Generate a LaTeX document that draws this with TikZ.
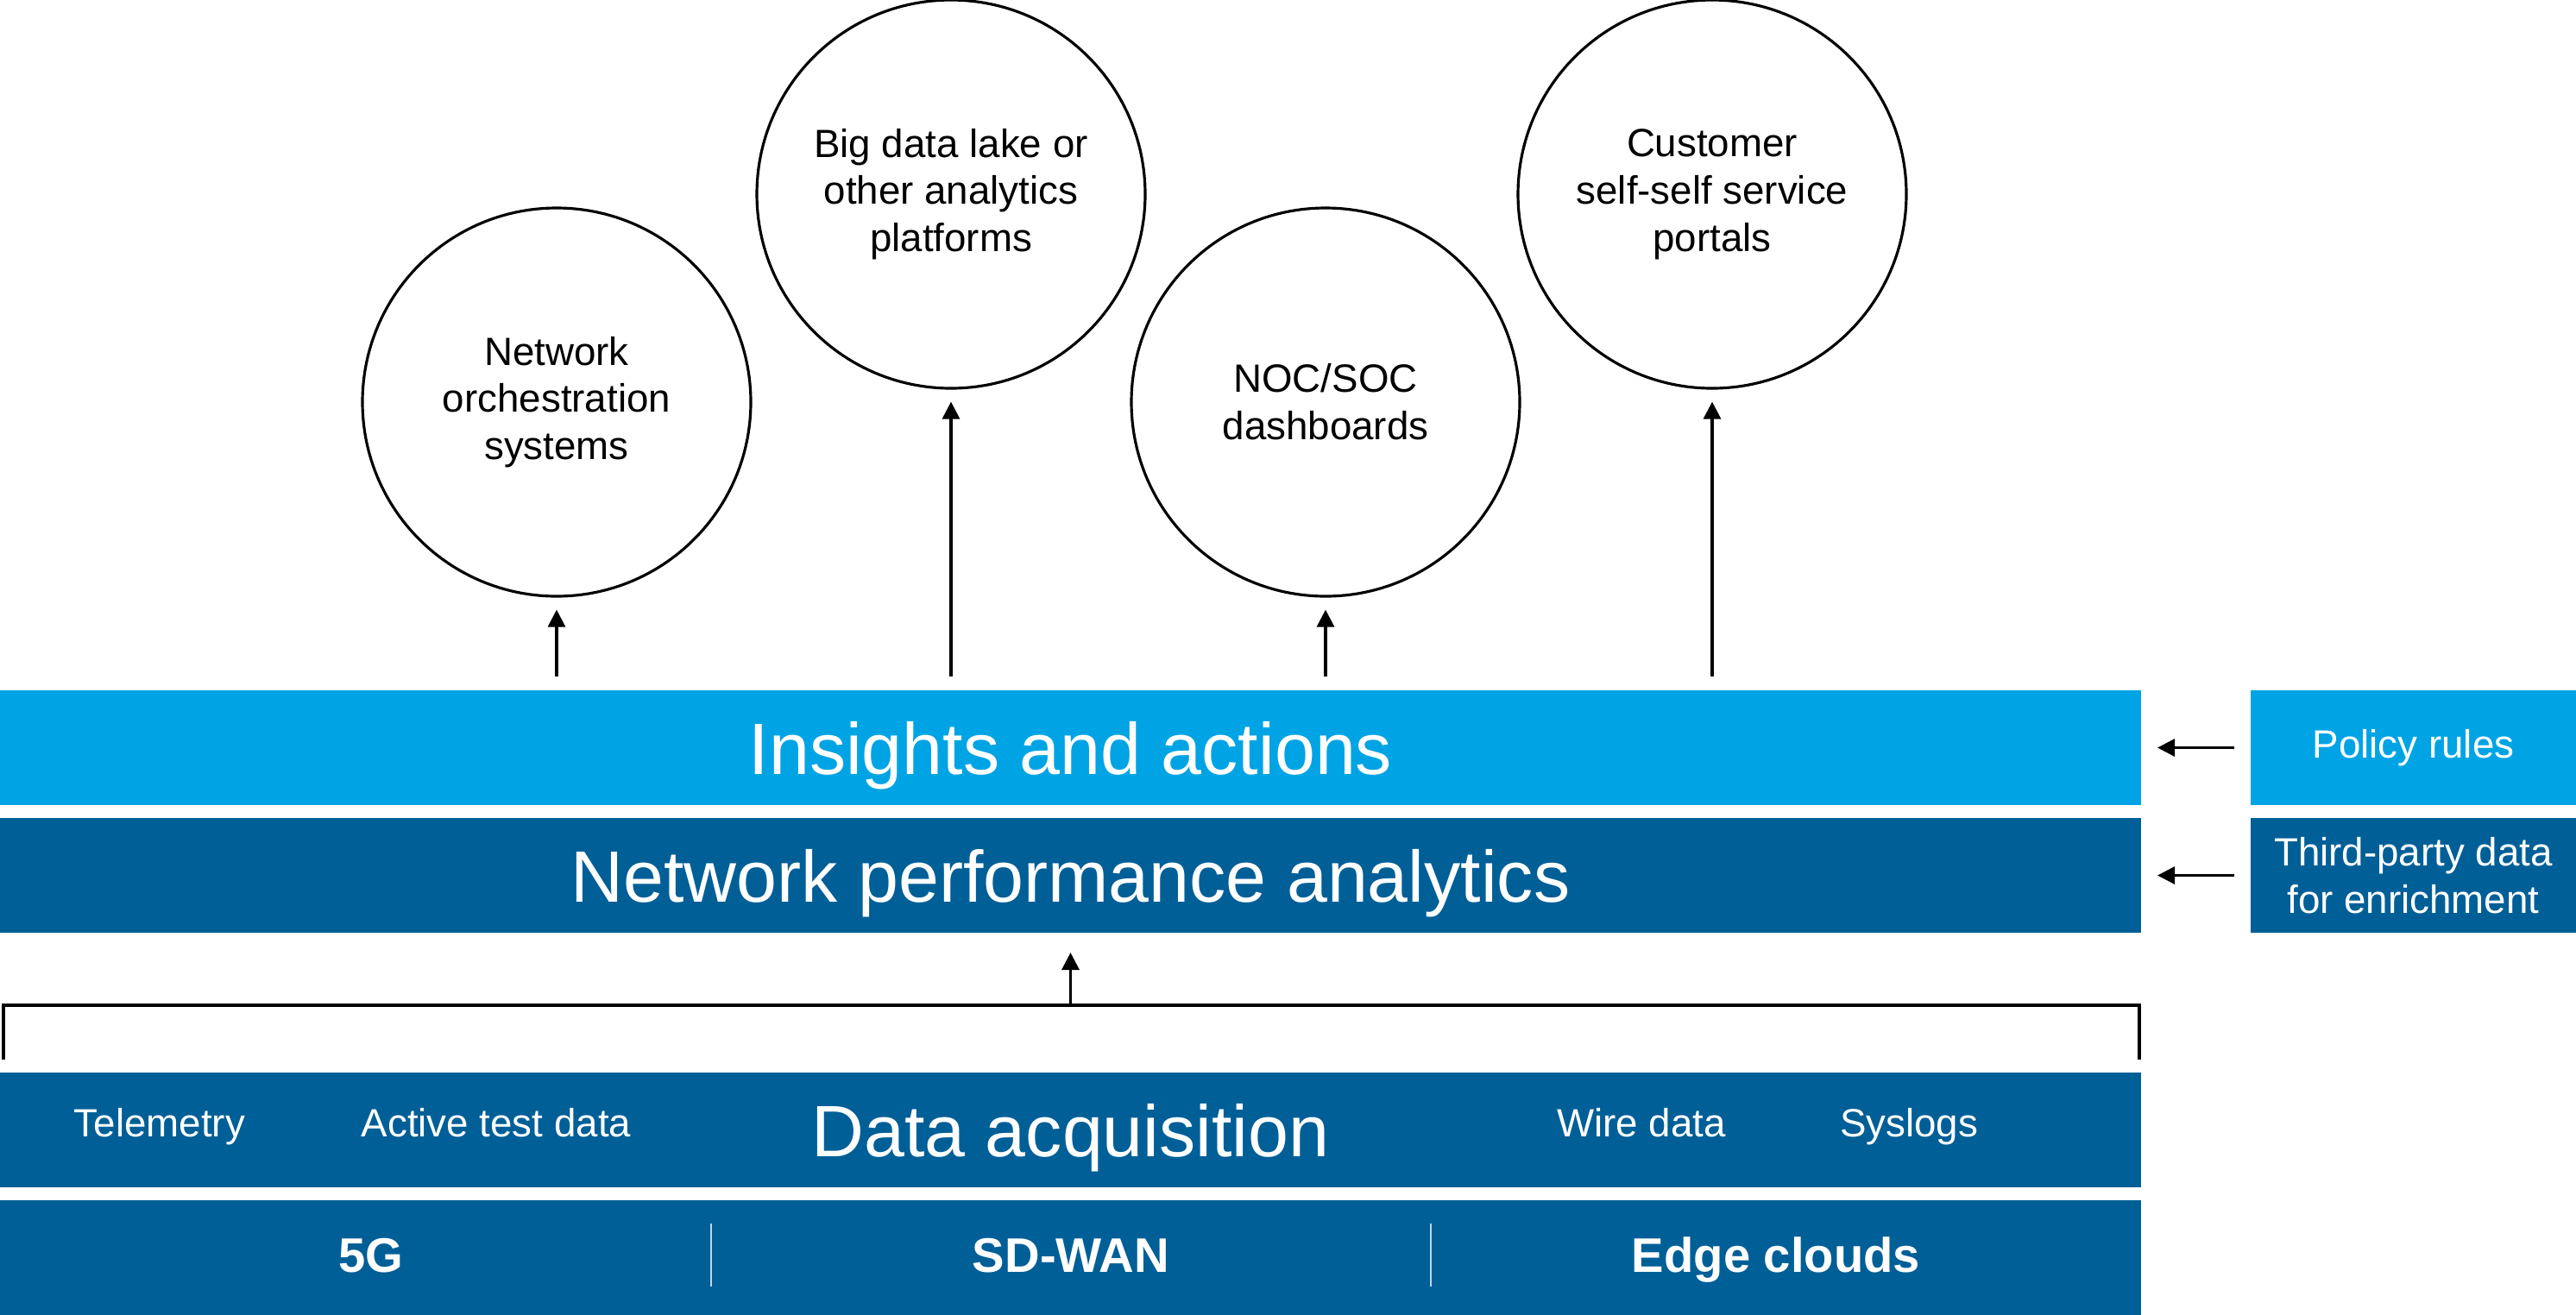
\documentclass[tikz,border=0pt]{standalone}
\usepackage{fontspec}
\setmainfont{Liberation Sans}
\usepackage{tikz}
\usetikzlibrary{arrows.meta,positioning}

\definecolor{lightblue}{HTML}{00A4E4}
\definecolor{darkblue}{HTML}{005F97}

\begin{document}
\begin{tikzpicture}[
    > = {Triangle[length=2mm,width=2mm]}, % arrow head style
    line width = 0.9pt, % line style
    node distance = 0.15cm % gap between stacked bars
    ]

    \tikzset{
    bar/.style = {
        fill = lightblue,
        text = white,
        anchor = north west,
        minimum width = 24.81cm,
        minimum height = 1.33cm,
        inner sep = 0pt,
        outer sep = 0pt,
        text depth = 0pt,
        font = \fontsize{24}{28}\selectfont
        },
    side/.style = {
        fill = lightblue,
        text = white,
        minimum width = 3.77cm,
        minimum height = 1.33cm,
        inner sep = 0pt,
        outer sep = 0pt,
        align = center,
        font = \fontsize{13}{15.6}\selectfont
        },
    disc/.style = {
        circle,
        draw = black,
        minimum size = 4.5cm,
        align = center,
        font = \fontsize{13}{15.6}\selectfont
        },
    lbl/.style = {
        anchor = base,
        text = white,
        inner sep = 0pt,
        font = \fontsize{13}{15.6}\selectfont
        },
    bold/.style = {
        lbl,
        font = \bfseries\fontsize{16}{19}\selectfont
        },
    sep/.style = {
        draw = white!75!darkblue,
        line width = 0.5pt
        }
    }

    \useasboundingbox (0,0) rectangle (29.85,-15.23);

    % stacked bars
    \node[bar] (ins) at (0,-8.00) {Insights and actions};
    \node[bar, fill = darkblue] (npa) [below=of ins] {Network performance analytics};
    \node[bar, fill = darkblue] (da) [below=1.62cm of npa] {Data acquisition};
    \node[bar, fill = darkblue] (net) [below=of da] {};

    % inputs on the right
    \node[side] (pol) [right=1.27cm of ins] {Policy rules};
    \node[side, fill = darkblue] (tpd) [right=1.27cm of npa] {Third-party data\\for enrichment};

    \draw[->] ([xshift=-0.19cm]pol.west) -- ([xshift=0.19cm]ins.east);
    \draw[->] ([xshift=-0.19cm]tpd.west) -- ([xshift=0.19cm]npa.east);

    % data sources
    \node[lbl] (tel) at (1.85,-13.17) {Telemetry};
    \node[lbl] (atd) at (5.75,-13.17) {Active test data};
    \node[lbl] (wire) at (19.02,-13.17) {Wire data};
    \node[lbl] (sys) at (22.12,-13.17) {Syslogs};

    \node[bold] (g5) at (4.30,-14.74) {5G};
    \node[bold] (sdw) at (12.41,-14.74) {SD-WAN};
    \node[bold] (edge) at (20.58,-14.74) {Edge clouds};

    \draw[sep] (8.24,-14.18) -- (8.24,-14.91);
    \draw[sep] (16.58,-14.18) -- (16.58,-14.91);

    % bracket into analytics
    \coordinate (bl) at ([shift={(0.04,0.15)}]da.north west);
    \coordinate (br) at ([shift={(-0.02,0.15)}]da.north east);
    \coordinate (bt) at ([yshift=0.78cm]da.north);
    \draw (bl) |- (bt) -| (br);
    \draw[->, shorten >= 0.23cm] (bt) -- (npa.south);

    % consumers
    \node[disc] (orch) at (6.45,-4.66) {Network\\orchestration\\systems};
    \node[disc] (lake) at (11.02,-2.25) {Big data lake or\\other analytics\\platforms};
    \node[disc] (noc) at (15.36,-4.66) {NOC/SOC\\dashboards};
    \node[disc] (cust) at (19.84,-2.25) {Customer\\self-self service\\portals};

    \foreach \c in {orch, lake, noc, cust}
        \draw[->, shorten <= 0.16cm, shorten >= 0.14cm] (ins.north -| \c.south) -- (\c.south);

\end{tikzpicture}
\end{document}
